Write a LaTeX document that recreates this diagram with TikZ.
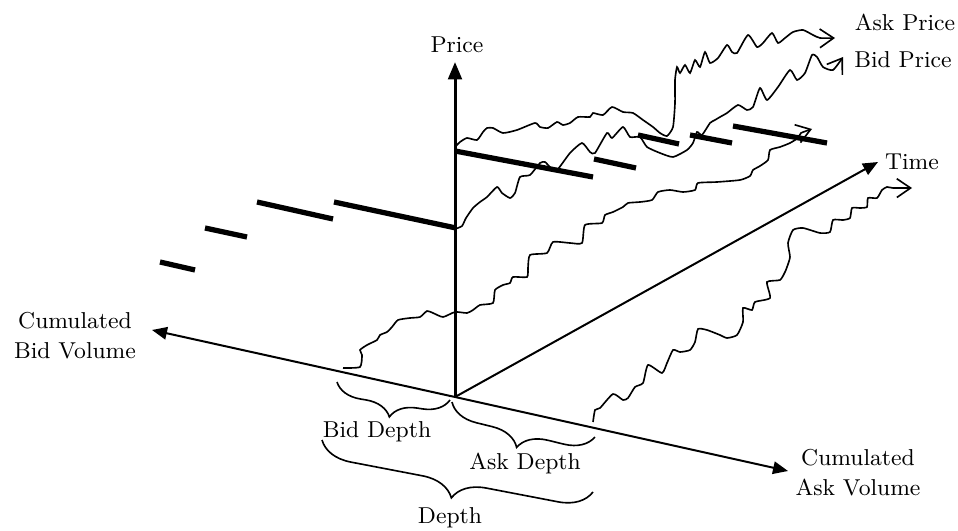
\documentclass[tikz,border=0pt]{standalone}
\usetikzlibrary{arrows.meta,decorations.pathreplacing}
\begin{document}
\begin{tikzpicture}[x=0.4pt,y=-0.4pt,
  lbl/.style={font=\fontsize{9.2}{12}\selectfont, inner sep=0pt, align=center},
  axis/.style={line width=0.8pt, -{Triangle[length=6pt,width=5pt]}},
  priceaxis/.style={line width=1.2pt, -{Triangle[length=7pt,width=5.5pt]}},
  walk/.style={line width=0.65pt, -{Straight Barb[length=5.5pt,width=7.5pt]}},
  level/.style={line width=2.1pt},
  depthbrace/.style={decorate, decoration={brace, mirror, amplitude=#1}, line width=0.65pt}]
\useasboundingbox (0,0) rectangle (958,531);

% axes
\coordinate (O) at (455,397);
\coordinate (ptip) at (455,62);
\coordinate (btip) at (152,330);
\coordinate (atip) at (788,471);
\coordinate (ttip) at (878,162);
\draw[priceaxis] (O) -- (ptip);
\draw[axis] (O) -- (btip);
\draw[axis] (O) -- (atip);
\draw[axis] (O) -- (ttip);

\node[lbl] (price) at (457,45) {Price};
\node[lbl] (bidvol) at (75,336) {Cumulated\\Bid Volume};
\node[lbl] (askvol) at (858,473) {Cumulated\\Ask Volume};
\node[lbl] (time) at (912,162) {Time};
\node[lbl] (askp) at (905,22) {Ask Price};
\node[lbl] (bidp) at (903,60) {Bid Price};

% bid side price levels
\draw[level] (160,262) -- (195,270);
\draw[level] (205,228) -- (247,237);
\draw[level] (257,202) -- (333,219);
\draw[level] (334,202) -- (456,228);
% ask side price levels
\draw[level] (455,151) -- (593,177);
\draw[level] (594,159) -- (636,168);
\draw[level] (638,135) -- (679,144);
\draw[level] (690,135) -- (732,143);
\draw[level] (733,126) -- (827,143);

% ask price path
\draw[walk] plot[smooth, tension=0.35] coordinates {
 (455,147) (460,142) (467,138) (477,140) (483,132) (487,128) (493,128) (503,133)
 (517,130) (535,123) (540,127) (548,128) (557,122) (563,125) (570,123) (578,117)
 (590,117) (593,113) (603,115) (612,107) (623,112) (633,113) (643,120) (653,127)
 (660,133) (667,136) (673,127) (675,103) (675,80) (677,67) (680,73) (685,65)
 (690,73) (695,60) (700,67) (705,52) (710,63) (718,58) (727,45) (732,52) (737,53)
 (748,35) (757,47) (763,43) (772,33) (778,43) (785,38) (793,32) (803,30) (813,35)
 (820,38) (835,38)};

% bid price path
\draw[walk] plot[smooth, tension=0.35] coordinates {
 (455,229) (462,226) (466,218) (473,208) (480,202) (487,197) (497,187) (502,193)
 (510,198) (515,193) (520,177) (530,175) (540,163) (545,162) (550,167) (557,170)
 (570,153) (582,143) (590,152) (595,153) (607,133) (612,138) (623,127) (630,137)
 (640,137) (647,147) (660,153) (673,157) (687,150) (693,143) (697,132) (702,135)
 (710,123) (715,120) (720,117) (727,113) (738,105) (747,110) (753,107) (760,88)
 (767,100) (778,87) (790,70) (797,80) (805,73) (812,55) (817,57) (823,67) (833,70)
 (843,57)};

% bid depth path
\draw[walk] plot[smooth, tension=0.35] coordinates {
 (343,368) (360,367) (362,355) (360,350) (367,345) (377,340) (380,335) (387,332)
 (392,327) (398,320) (410,318) (420,317) (427,311) (433,313) (443,317) (455,312)
 (467,313) (473,310) (480,305) (493,303) (495,290) (503,285) (510,283) (513,277)
 (527,277) (528,268) (530,255) (547,253) (553,242) (570,243) (582,243) (585,225)
 (602,223) (605,215) (613,212) (623,207) (628,203) (640,202) (652,200) (658,192)
 (670,190) (683,192) (695,190) (698,183) (717,182) (740,180) (750,176) (753,170)
 (760,166) (768,160) (770,150) (780,147) (790,143) (798,138) (801,133) (812,129)};

% ask depth path
\draw[walk] plot[smooth, tension=0.35] coordinates {
 (593,422) (595,410) (600,408) (613,394) (623,400) (628,398) (635,387) (643,383)
 (648,365) (662,373) (667,363) (673,350) (680,352) (690,350) (695,342) (698,329)
 (707,330) (720,335) (727,338) (737,335) (743,322) (743,308) (752,310) (755,302)
 (770,298) (767,282) (780,280) (785,272) (787,267) (790,257) (788,243) (793,230)
 (803,228) (820,233) (830,232) (833,220) (843,220) (850,218) (852,208) (860,208)
 (867,207) (868,198) (877,198) (882,190) (887,187) (893,188) (912,188)};

% depth braces
\coordinate (bd1) at (337,382);
\coordinate (bd2) at (450,400);
\coordinate (ad1) at (452,402);
\coordinate (ad2) at (595,437);
\coordinate (d1) at (322,440);
\coordinate (d2) at (593,492);
\draw[depthbrace=10.5pt] (bd1) -- (bd2);
\draw[depthbrace=11.5pt] (ad1) -- (ad2);
\draw[depthbrace=13pt] (d1) -- (d2);
\node[lbl] (biddepth) at (377,432) {Bid Depth};
\node[lbl] (askdepth) at (525,463) {Ask Depth};
\node[lbl] (depth) at (450,518) {Depth};
\end{tikzpicture}
\end{document}
